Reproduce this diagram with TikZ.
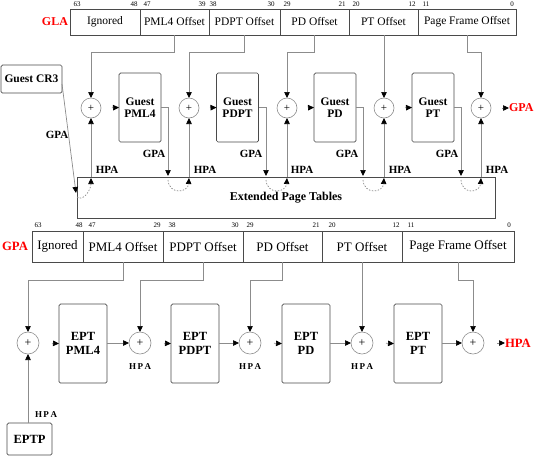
\documentclass[tikz,border=0pt]{standalone}
\usepackage{fontspec}
\setmainfont{Liberation Serif}
\usetikzlibrary{arrows.meta,calc}
\definecolor{linec}{HTML}{8C8C8C}
\definecolor{boxc}{HTML}{4A4A4A}
\definecolor{redc}{HTML}{FF0000}
\begin{document}
\begin{tikzpicture}[x=1pt,y=-1pt,
  every node/.style={inner sep=0pt, outer sep=0pt},
  fld/.style={draw=boxc, line width=0.7pt, minimum height=26pt, font=\fontsize{11.5}{12}\selectfont},
  bfld/.style={draw=boxc, line width=0.7pt, minimum height=31pt, font=\fontsize{13}{14}\selectfont},
  bit/.style={font=\fontsize{7}{7}\selectfont},
  conn/.style={draw=linec, line width=0.7pt},
  arr/.style={conn, -{Triangle[length=6pt,width=5.5pt,color=black]}},
  headonly/.style={arr, shorten <=#1},
  darr/.style={arr, dash pattern=on 1.5pt off 1.5pt},
  adder/.style={circle, draw=linec, line width=0.6pt, minimum size=20pt, font=\fontsize{11}{11}\selectfont},
  badder/.style={adder, minimum size=22pt, font=\fontsize{12}{12}\selectfont},
  gbox/.style={draw=boxc, line width=0.7pt, rounded corners=1.5pt, minimum width=42pt, minimum height=69pt, align=center, font=\bfseries\fontsize{11.5}{12.5}\selectfont},
  ebox/.style={draw=boxc, line width=0.7pt, rounded corners=1.5pt, minimum width=48pt, minimum height=79pt, align=center, font=\bfseries\fontsize{12.5}{14}\selectfont},
  lbl/.style={font=\bfseries\fontsize{11}{11}\selectfont},
  slbl/.style={font=\bfseries\fontsize{9}{9}\selectfont},
  redl/.style={text=redc, font=\bfseries\fontsize{12}{12}\selectfont},
]
\useasboundingbox (0,0) rectangle (534,456);

% ---------- top register (GLA) ----------
\node[redl] (gla) at (55,22) {GLA};
\node[fld, minimum width=70pt] (t0) at (105,22) {Ignored};
\node[fld, minimum width=69pt] (t1) at (174.5,22) {PML4 Offset};
\node[fld, minimum width=71pt] (t2) at (244.5,22) {PDPT Offset};
\node[fld, minimum width=69pt] (t3) at (314.5,22) {PD Offset};
\node[fld, minimum width=69pt] (t4) at (383.5,22) {PT Offset};
\node[fld, minimum width=98pt] (t5) at (467,22) {Page Frame Offset};
\foreach \x/\t [count=\i] in {77/63,134/48,147/47,202/39,213/38,271/30,287/29,342/21,356/20,412/12,426/11,512/0}
  \node[bit] (tb\i) at (\x,4) {\t};

% ---------- guest walk ----------
\node[draw=boxc, line width=0.7pt, rounded corners=1.5pt, minimum width=61pt, minimum height=28pt, font=\bfseries\fontsize{11.5}{12}\selectfont] (cr3) at (31.5,79) {Guest CR3};

\node[adder] (c1) at (91,108) {+};
\node[adder] (c2) at (189,108) {+};
\node[adder] (c3) at (287,108) {+};
\node[adder] (c4) at (384,108) {+};
\node[adder] (c5) at (481,108) {+};

\node[gbox] (g1) at (140,107.5) {Guest\\PML4};
\node[gbox] (g2) at (237.5,107.5) {Guest\\PDPT};
\node[gbox] (g3) at (335,107.5) {Guest\\PD};
\node[gbox] (g4) at (433,107.5) {Guest\\PT};

\node[redl, anchor=west] (gpaout) at (509,108) {GPA};

\node[draw=boxc, line width=0.7pt, minimum width=418pt, minimum height=41pt, font=\bfseries\fontsize{12}{12}\selectfont] (ept) at (286,197.5) {Extended Page Tables};

% offsets to adders
\draw[arr] (t1.south) -- ++(0,17) -| (c1.north);
\draw[arr] (t2.south) -- ++(0,17) -| (c2.north);
\draw[arr] (t3.south) -- ++(0,17) -| (c3.north);
\draw[arr] (c4.north |- t4.south) -- (c4.north);
\draw[arr] (t5.south) -- ++(0,17) -| (c5.north);

% adders to tables
\draw[headonly=11pt] (c1.east) -- (g1.west);
\draw[headonly=11pt] (c2.east) -- (g2.west);
\draw[headonly=11pt] (c3.east) -- (g3.west);
\draw[headonly=11pt] (c4.east) -- (g4.west);
\draw[headonly=11pt] (c5.east) -- (gpaout.west);

% GPA down into EPT
\coordinate (d0) at (76,193);
\coordinate (d1) at (168,176);
\coordinate (d2) at (266,176);
\coordinate (d3) at (363,176);
\coordinate (d4) at (461,176);
\draw[arr] ($(cr3.east)+(0,5)$) -- (d0);
\draw[arr] (g1.east) -| (d1);
\draw[arr] (g2.east) -| (d2);
\draw[arr] (g3.east) -| (d3);
\draw[arr] (g4.east) -| (d4);

% HPA up from EPT
\draw[arr] (c1.south |- ept.north) -- (c1.south);
\draw[arr] (c2.south |- ept.north) -- (c2.south);
\draw[arr] (c3.south |- ept.north) -- (c3.south);
\draw[arr] (c4.south |- ept.north) -- (c4.south);
\draw[arr] (c5.south |- ept.north) -- (c5.south);

% dashed translations inside EPT
\draw[darr] ($(d0)+(1,4)$) .. controls +(6,5) and +(0,12) .. ($(c1.south |- ept.north)+(0,1)$);
\draw[darr] ($(d1)+(0,4)$) .. controls +(1,15) and +(-1,15) .. ($(c2.south |- ept.north)+(0,1)$);
\draw[darr] ($(d2)+(0,4)$) .. controls +(1,15) and +(-1,15) .. ($(c3.south |- ept.north)+(0,1)$);
\draw[darr] ($(d3)+(0,4)$) .. controls +(1,15) and +(-1,15) .. ($(c4.south |- ept.north)+(0,1)$);
\draw[darr] ($(d4)+(0,4)$) .. controls +(1,15) and +(-1,15) .. ($(c5.south |- ept.north)+(0,1)$);

% labels
\node[lbl] (lg0) at (57,135) {GPA};
\node[lbl] (lh1) at (107,170) {HPA};
\node[lbl] (lg1) at (154,154) {GPA};
\node[lbl] (lh2) at (205,170) {HPA};
\node[lbl] (lg2) at (251,154) {GPA};
\node[lbl] (lh3) at (302,170) {HPA};
\node[lbl] (lg3) at (347,154) {GPA};
\node[lbl] (lh4) at (400,170) {HPA};
\node[lbl] (lg4) at (447,154) {GPA};
\node[lbl] (lh5) at (497,170) {HPA};

% ---------- lower register (GPA) ----------
\foreach \x/\t [count=\i] in {38/63,79/48,92/47,157/29,172/38,235/30,250/29,316/21,332/20,396/12,411/11,509/0}
  \node[bit] (bb\i) at (\x,225) {\t};
\node[redl, font=\bfseries\fontsize{12.7}{13}\selectfont] (gpain) at (15,246.5) {GPA};
\node[bfld, minimum width=51pt] (b0) at (57.5,246.5) {Ignored};
\node[bfld, minimum width=80pt] (b1) at (123,246.5) {PML4 Offset};
\node[bfld, minimum width=80pt] (b2) at (203,246.5) {PDPT Offset};
\node[bfld, minimum width=79pt] (b3) at (282.5,246.5) {PD Offset};
\node[bfld, minimum width=80pt] (b4) at (362,246.5) {PT Offset};
\node[bfld, minimum width=112pt] (b5) at (458,246.5) {Page Frame Offset};

% ---------- EPT walk ----------
\node[badder] (e1) at (28,343) {+};
\node[badder] (e2) at (140,343) {+};
\node[badder] (e3) at (250,343) {+};
\node[badder] (e4) at (362,343) {+};
\node[badder] (e5) at (473,343) {+};

\node[ebox] (p1) at (83,343.5) {EPT\\PML4};
\node[ebox] (p2) at (195,343.5) {EPT\\PDPT};
\node[ebox] (p3) at (306,343.5) {EPT\\PD};
\node[ebox] (p4) at (418,343.5) {EPT\\PT};

\node[redl, font=\bfseries\fontsize{12.7}{13}\selectfont, anchor=west] (hpaout) at (505,343) {HPA};

\node[draw=boxc, line width=0.7pt, rounded corners=1.5pt, minimum width=45pt, minimum height=32pt, font=\bfseries\fontsize{12.5}{13}\selectfont] (eptp) at (29.5,439) {EPTP};

\draw[arr] (b1.south) -- ++(0,18) -| (e1.north);
\draw[arr] (b2.south) -- ++(0,18) -| (e2.north);
\draw[arr] (b3.south) -- ++(0,18) -| (e3.north);
\draw[arr] (e4.north |- b4.south) -- (e4.north);
\draw[arr] (b5.south) -- ++(0,18) -| (e5.north);

\draw[headonly=13pt] (e1.east) -- (p1.west);
\draw[headonly=13pt] (e2.east) -- (p2.west);
\draw[headonly=13pt] (e3.east) -- (p3.west);
\draw[headonly=13pt] (e4.east) -- (p4.west);
\draw[headonly=13pt] (e5.east) -- (hpaout.west);

\draw[arr] (p1.east |- e2) -- (e2.west);
\draw[arr] (p2.east |- e3) -- (e3.west);
\draw[arr] (p3.east |- e4) -- (e4.west);
\draw[arr] (p4.east |- e5) -- (e5.west);

\draw[arr] (e1.south |- eptp.north) -- (e1.south);

\node[slbl] (h2) at (140,367) {H\,P\,A};
\node[slbl] (h3) at (250,367) {H\,P\,A};
\node[slbl] (h4) at (362,367) {H\,P\,A};
\node[slbl] (h1) at (46,415) {H\,P\,A};
\end{tikzpicture}
\end{document}
